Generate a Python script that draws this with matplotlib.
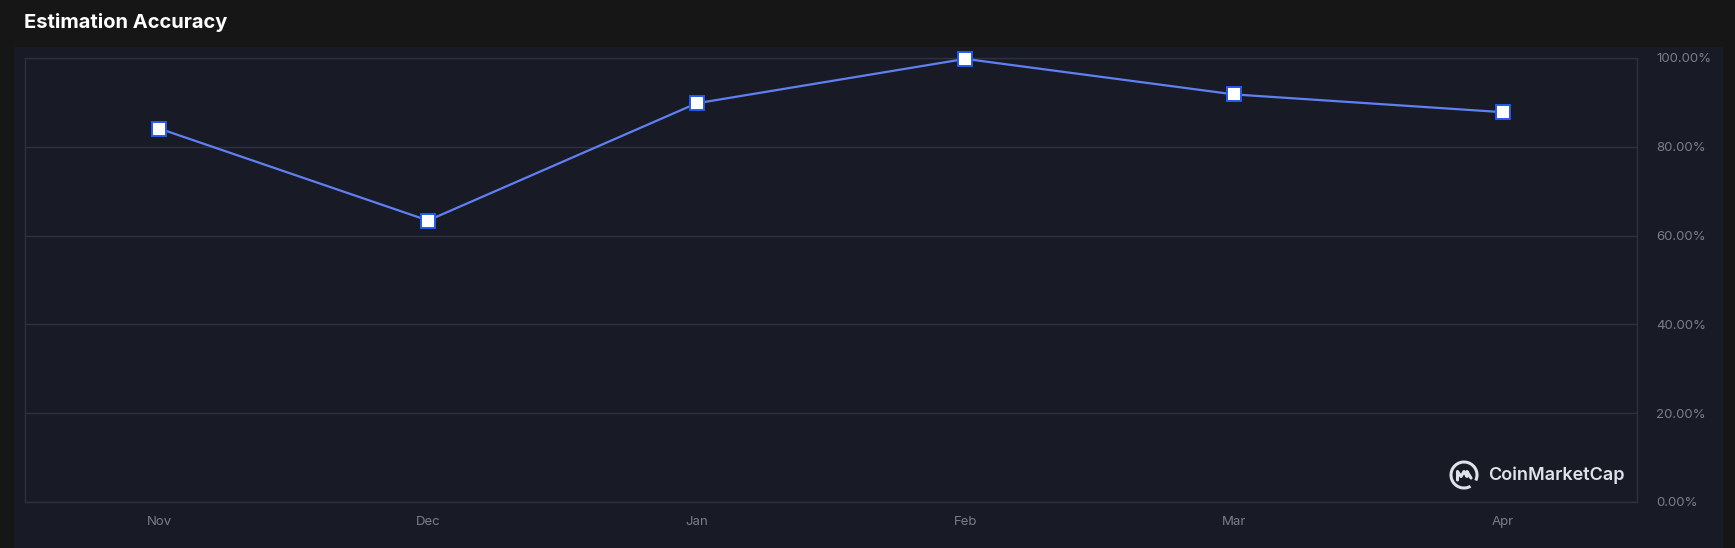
import numpy as np
import matplotlib

matplotlib.use("Agg")
import matplotlib.pyplot as plt
from matplotlib.patches import Rectangle, Arc
from matplotlib.ticker import FuncFormatter

months = ["Nov", "Dec", "Jan", "Feb", "Mar", "Apr"]
accuracy = [84.1, 63.4, 89.8, 99.8, 91.8, 87.8]
y_ticks = [0, 20, 40, 60, 80, 100]

OUTER_BG = "#161616"
PANEL_BG = "#181a25"
GRID = "#2d303f"
TICK = "#7b7e87"
LINE = "#5f80f2"
EDGE = "#2458f0"

W, H = 1735, 548
fig = plt.figure(figsize=(W / 100, H / 100), dpi=100)
fig.patch.set_facecolor(OUTER_BG)

# dark panel behind the chart
fig.patches.append(
    Rectangle((14 / W, 0), (1723 - 14) / W, (H - 47) / H,
              transform=fig.transFigure, facecolor=PANEL_BG, edgecolor="none", zorder=-5)
)

fig.text(24 / W, 1 - 23 / H, "Estimation Accuracy", color="white", fontsize=14.5,
         fontweight="bold", va="center", ha="left", family="Inter")

ax = fig.add_axes([25 / W, (H - 502) / H, (1637 - 25) / W, (502 - 58) / H])
ax.set_facecolor(PANEL_BG)

x = np.arange(len(months))
ax.plot(x, accuracy, color=LINE, lw=1.6, zorder=3)
ax.plot(x, accuracy, ls="none", marker="s", ms=10.5, mfc="white", mec=EDGE, mew=1.4,
        zorder=4, clip_on=False)

ax.set_xlim(-0.5, len(months) - 0.5)
ax.set_ylim(0, 100)
ax.set_xticks(x)
ax.set_xticklabels(months)
ax.set_yticks(y_ticks)
ax.yaxis.set_major_formatter(FuncFormatter(lambda v, p: f"{v:.2f}%"))
ax.yaxis.tick_right()

ax.grid(axis="y", color=GRID, lw=1)
ax.set_axisbelow(True)
for s in ax.spines.values():
    s.set_color(GRID)
    s.set_linewidth(1)

ax.tick_params(axis="both", length=0, colors=TICK, labelsize=9.5)
ax.tick_params(axis="x", pad=10)
ax.tick_params(axis="y", pad=14)
for lab in ax.get_xticklabels() + ax.get_yticklabels():
    lab.set_family("Inter")

# watermark
logo_c = "#dfe2e8"
fig.text(1488 / W, 1 - 475 / H, "CoinMarketCap", color=logo_c, fontsize=13,
         fontweight="semibold", va="center", ha="left", family="Inter")
logo_ax = fig.add_axes([(1464 - 16) / W, (H - 475 - 16) / H, 32 / W, 32 / H])
logo_ax.set_xlim(-16, 16)
logo_ax.set_ylim(-16, 16)
logo_ax.set_aspect("equal")
logo_ax.axis("off")
logo_ax.add_patch(Arc((0, 0), 26, 26, theta1=-25, theta2=300, color=logo_c, lw=2.2))
logo_ax.plot([-6.5, -6.5, -3, 0, 3, 3, 7], [-5, 3.5, -1.5, 3.5, -1.5, 3.5, -3],
             color=logo_c, lw=2.2, solid_joinstyle="round", solid_capstyle="round")

fig.savefig("out.png", dpi=100, facecolor=fig.get_facecolor())
